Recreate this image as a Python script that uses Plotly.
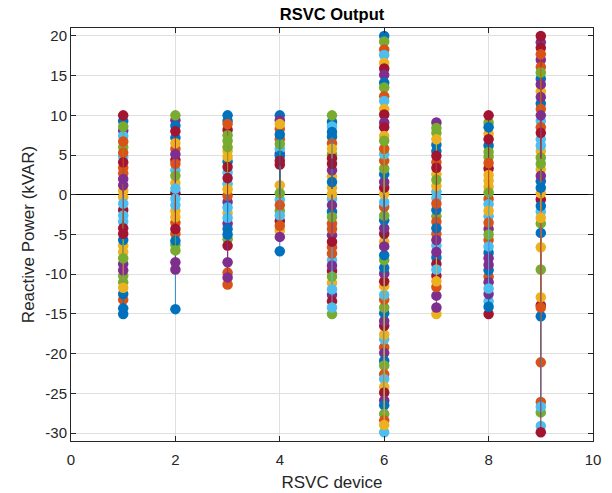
import plotly.graph_objects as go

devices = [1, 2, 3, 4, 5, 6, 7, 8, 9]

d1 = [-15.0, 2.7, -6.4, 8.1, -11.0, 4.8, -1.9, 9.3, -13.2, 0.5, -8.7, 6.0, -3.4, 10.0,
      -14.3, 3.4, -7.2, 1.2, -10.2, 7.4, -4.2, -12.5, 5.3, -0.3, -9.5, 8.6, -2.6, 4.1,
      -5.7, 6.7, -11.7, 2.0, -8.0, -1.1, -4.9]
d2 = [-14.4, 5.8, -2.0, 9.4, -6.3, 3.1, 0.2, 7.2, -4.9, 1.5, -9.4, 10.0, -1.3, 4.4, 8.7,
      -3.5, 6.5, -8.5, 2.4, -0.5, 8.0, -5.8, 3.9, -2.8, 5.1, -7.0, 0.8, -4.3]
d3 = [4.2, -11.3, -2.3, -0.9, -5.6, 1.4, 8.2, 10.0, -9.8, 5.5, -3.6, 7.5, 2.8, -6.4, 9.3,
      -0.1, 4.8, -8.5, 6.0, -1.6, 3.5, -4.3, 8.9, 0.7, -10.4, 6.8, -2.9, 2.1, -5.0]
d4 = [-7.1, 8.3, 1.2, 5.2, -2.0, -0.6, 3.8, 10.0, 7.0, -4.5, 9.4, 0.2, 5.8, -3.3, 4.9,
      -1.3, 8.9, -5.3, 6.4, -2.6, 4.3, 7.6, -3.9]
d5 = [9.2, -6.6, 2.3, -12.6, 5.1, -0.5, -9.6, 7.3, -3.6, 0.9, -5.1, 10.0, -8.2, 4.6,
      -2.1, 6.5, -11.1, 3.1, -15.0, 8.6, -13.4, 1.6, -7.4, 5.8, -1.3, -10.3, -14.2, 3.9,
      7.9, -4.3, 0.1, -8.9, -2.8, -11.9, -5.9]
d6 = [20.0, -19.2, -5.9, -19.9, 19.3, -18.2, -4.9, -20.9, 18.3, -17.6, -4.2, -21.5,
      17.6, -16.5, -3.2, -22.6, 16.6, -15.9, -2.6, -23.2, 15.9, -14.9, -1.5, -24.2,
      15.1, -14.2, -0.9, -24.9, 14.1, -13.2, 0.1, -25.9, 13.5, -12.6, 0.9, -26.5,
      12.4, -11.5, 1.6, -27.6, 11.8, -10.9, 2.6, -28.4, 10.8, -9.9, 3.3, -29.9,
      10.1, -9.2, 4.3, -29.0, 9.1, -8.2, 5.1, 8.5, -7.6, 5.8, 7.4, -6.5, 6.8]
d7 = [-7.9, 4.1, -15.0, 9.1, -2.7, 0.4, -10.2, 6.3, -4.9, 2.6, -12.7, 7.8, -0.4, -8.7,
      5.5, -3.4, 1.1, -14.2, 8.4, -6.4, 3.4, -1.9, -11.6, 7.0, -5.7, 1.9, -9.4, 4.9,
      -4.2, -1.1, -10.9, -7.2]
d8 = [6.2, -10.3, 1.0, -4.3, 9.1, -13.4, 3.3, -7.3, -0.5, 7.7, -8.0, 4.8, -2.7, 10.0,
      -9.5, -5.7, 1.8, -12.5, 5.4, -1.2, -15.0, 8.5, -3.5, 2.5, -11.0, 0.3, -6.5, 7.0,
      -14.1, 4.0, -2.0, -8.8, -5.0, -11.8]
d9 = [11.5, -26.1, 3.2, 17.0, -9.4, 7.0, -0.6, 14.6, -21.1, 5.5, 19.2, -3.6, 9.3, -13.9,
      1.7, 16.1, 13.0, 12.3, 4.7, -2.1, 18.5, -15.3, 8.5, 0.2, 13.9, -27.4, 6.2, 20.0,
      -4.8, 10.8, -12.9, 2.4, 15.4, -29.1, 7.8, -1.4, 17.7, -6.6, 10.0, 3.9, -26.7,
      -29.9, 0.9, -14.2, -2.9]

device_values = [d1, d2, d3, d4, d5, d6, d7, d8, d9]

colors = ["#0072BD", "#D95319", "#EDB120", "#7E2F8E", "#77AC30", "#4DBEEE", "#A2142F"]

x_ticks = [0, 2, 4, 6, 8, 10]
y_ticks = [-30, -25, -20, -15, -10, -5, 0, 5, 10, 15, 20]

fig = go.Figure()
n_series = max(len(v) for v in device_values)
for k in range(n_series):
    xs, ys, sizes = [], [], []
    for dev, vals in zip(devices, device_values):
        if k < len(vals):
            xs += [dev, dev, None]
            ys += [0, vals[k], None]
            sizes += [0, 10.5, 0]
    c = colors[k % len(colors)]
    fig.add_trace(go.Scatter(
        x=xs, y=ys, mode="lines+markers",
        line=dict(color=c, width=0.8),
        marker=dict(color=c, size=sizes, opacity=1, line=dict(width=0)),
        opacity=1,
        showlegend=False, hoverinfo="skip", connectgaps=False,
    ))

axis_col = "#262626"
grid_col = "#dfdfdf"
font = "Liberation Sans, Arial, Helvetica, sans-serif"

fig.update_layout(
    width=612, height=493,
    margin=dict(l=71, r=19, t=28, b=52, autoexpand=False),
    paper_bgcolor="white", plot_bgcolor="white",
    font=dict(family=font, color=axis_col, size=15),
    title=dict(text="<b>RSVC Output</b>", x=0.5, xref="paper", xanchor="center",
               y=1 - 14 / 493, yref="container", yanchor="middle",
               font=dict(size=16.5, color="black", family=font)),
)
fig.update_xaxes(
    range=[0, 10], tickvals=x_ticks, ticktext=[str(t) for t in x_ticks],
    showgrid=True, gridcolor=grid_col, gridwidth=1,
    showline=True, linecolor=axis_col, linewidth=1, mirror="ticks",
    ticks="inside", ticklen=5, tickcolor=axis_col, zeroline=False,
    tickfont=dict(size=15, color=axis_col), ticklabelstandoff=5,
    automargin=False,
    title=dict(text="RSVC device", font=dict(size=17, color=axis_col), standoff=9),
)
fig.update_yaxes(
    range=[-31, 21], tickvals=y_ticks, ticktext=[str(t) for t in y_ticks],
    showgrid=True, gridcolor=grid_col, gridwidth=1,
    showline=True, linecolor=axis_col, linewidth=1, mirror="ticks",
    ticks="inside", ticklen=5, tickcolor=axis_col,
    zeroline=True, zerolinecolor="#000000", zerolinewidth=1,
    tickfont=dict(size=15, color=axis_col),
    automargin=False,
    title=dict(text="Reactive Power (kVAR)", font=dict(size=17, color=axis_col), standoff=6),
)

fig.write_html("out.html", config={"displayModeBar": False},
               post_script="document.body.style.margin='0';")
